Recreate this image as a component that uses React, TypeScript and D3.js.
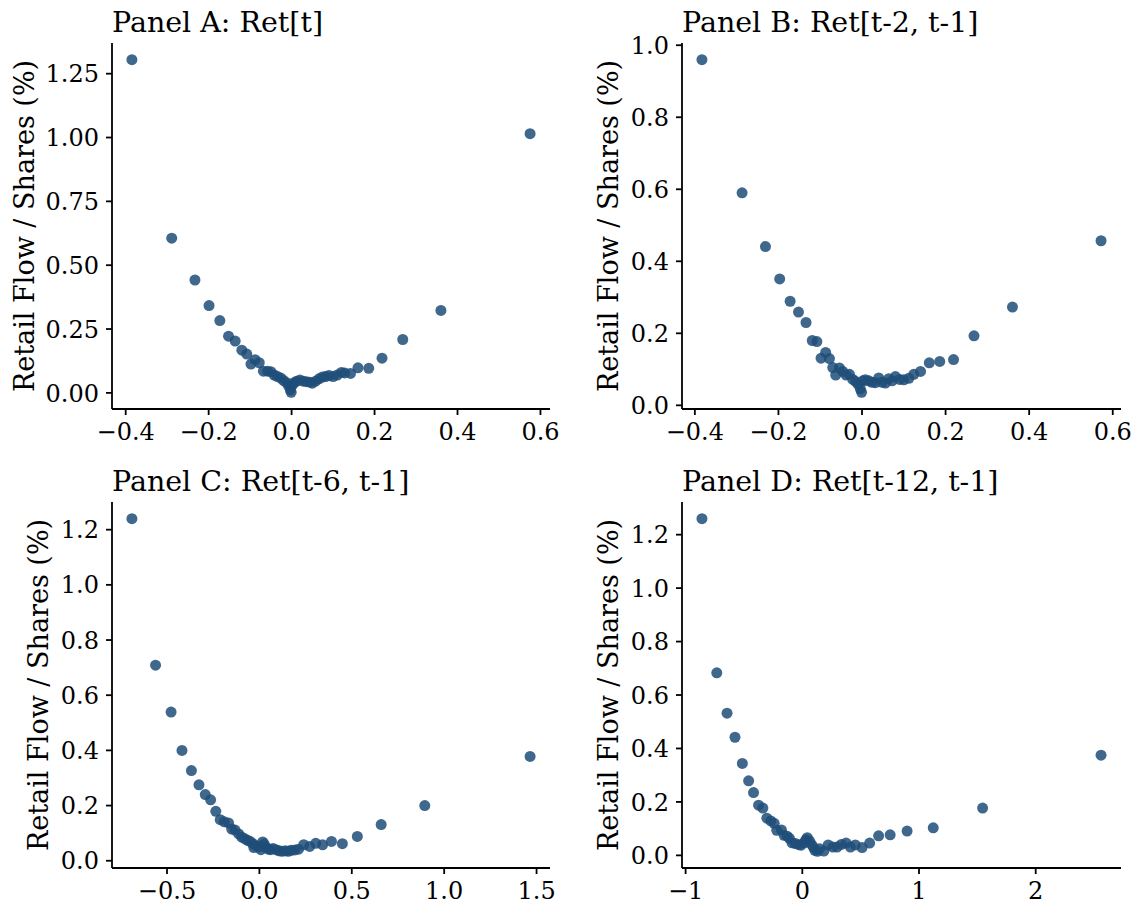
import React from "react";
import * as d3 from "d3";

const WIDTH = 1138;
const HEIGHT = 907;
const FONT = "'DejaVu Serif', serif";
const DOT = "#1f4e79";

// Panel A: Ret[t]
const retA = [-0.385, -0.289, -0.233, -0.199, -0.173, -0.152, -0.136, -0.12, -0.108, -0.098, -0.088, -0.078, -0.068, -0.058, -0.05, -0.042, -0.034, -0.026, -0.019, -0.012, -0.007, -0.003, -0.001, 0.002, 0.006, 0.012, 0.02, 0.028, 0.036, 0.044, 0.05, 0.058, 0.066, 0.074, 0.082, 0.09, 0.1, 0.11, 0.12, 0.128, 0.142, 0.16, 0.186, 0.218, 0.268, 0.36, 0.575];
const flowA = [1.305, 0.606, 0.442, 0.342, 0.283, 0.222, 0.203, 0.167, 0.152, 0.113, 0.13, 0.118, 0.085, 0.085, 0.083, 0.07, 0.064, 0.058, 0.048, 0.04, 0.026, 0.012, 0.002, 0.03, 0.04, 0.046, 0.05, 0.046, 0.044, 0.042, 0.038, 0.046, 0.055, 0.062, 0.064, 0.068, 0.064, 0.07, 0.08, 0.078, 0.076, 0.098, 0.096, 0.136, 0.209, 0.323, 1.015];

// Panel B: Ret[t-2, t-1]
const retB = [-0.383, -0.287, -0.231, -0.197, -0.172, -0.152, -0.134, -0.119, -0.108, -0.098, -0.087, -0.078, -0.07, -0.063, -0.054, -0.046, -0.038, -0.03, -0.022, -0.015, -0.009, -0.004, -0.001, 0.002, 0.008, 0.016, 0.024, 0.032, 0.04, 0.048, 0.056, 0.064, 0.072, 0.08, 0.09, 0.1, 0.112, 0.124, 0.14, 0.161, 0.186, 0.219, 0.268, 0.36, 0.572];
const flowB = [0.96, 0.59, 0.441, 0.351, 0.289, 0.259, 0.23, 0.18, 0.177, 0.131, 0.147, 0.13, 0.105, 0.084, 0.104, 0.094, 0.084, 0.086, 0.072, 0.066, 0.058, 0.046, 0.036, 0.068, 0.071, 0.068, 0.064, 0.063, 0.076, 0.064, 0.062, 0.074, 0.068, 0.08, 0.072, 0.071, 0.075, 0.086, 0.094, 0.118, 0.122, 0.127, 0.193, 0.273, 0.457];

// Panel C: Ret[t-6, t-1]
const retC = [-0.69, -0.562, -0.478, -0.419, -0.368, -0.327, -0.293, -0.264, -0.236, -0.212, -0.19, -0.167, -0.15, -0.132, -0.112, -0.096, -0.08, -0.064, -0.05, -0.036, -0.03, -0.016, -0.004, 0.008, 0.018, 0.026, 0.036, 0.048, 0.06, 0.074, 0.09, 0.106, 0.122, 0.14, 0.156, 0.172, 0.192, 0.212, 0.24, 0.272, 0.305, 0.342, 0.39, 0.449, 0.53, 0.659, 0.895, 1.465];
const flowC = [1.24, 0.709, 0.539, 0.4, 0.327, 0.275, 0.24, 0.221, 0.179, 0.149, 0.141, 0.137, 0.115, 0.111, 0.097, 0.086, 0.08, 0.074, 0.07, 0.062, 0.048, 0.054, 0.05, 0.04, 0.068, 0.06, 0.048, 0.042, 0.04, 0.044, 0.04, 0.036, 0.034, 0.036, 0.034, 0.038, 0.039, 0.042, 0.058, 0.052, 0.063, 0.058, 0.07, 0.062, 0.088, 0.131, 0.2, 0.378];

// Panel D: Ret[t-12, t-1]
const retD = [-0.86, -0.733, -0.645, -0.577, -0.514, -0.46, -0.418, -0.375, -0.338, -0.304, -0.27, -0.241, -0.219, -0.179, -0.156, -0.13, -0.11, -0.088, -0.06, -0.03, -0.01, 0.014, 0.03, 0.043, 0.062, 0.079, 0.095, 0.108, 0.13, 0.148, 0.185, 0.222, 0.262, 0.298, 0.335, 0.375, 0.412, 0.454, 0.512, 0.577, 0.654, 0.753, 0.898, 1.122, 1.545, 2.56];
const flowD = [1.26, 0.683, 0.532, 0.442, 0.344, 0.279, 0.235, 0.188, 0.177, 0.139, 0.129, 0.12, 0.094, 0.095, 0.075, 0.072, 0.064, 0.047, 0.044, 0.04, 0.038, 0.047, 0.058, 0.066, 0.054, 0.041, 0.03, 0.019, 0.015, 0.025, 0.016, 0.039, 0.031, 0.031, 0.041, 0.046, 0.031, 0.039, 0.029, 0.046, 0.073, 0.077, 0.091, 0.103, 0.177, 0.375];

const titles = ["Panel A: Ret[t]", "Panel B: Ret[t-2, t-1]", "Panel C: Ret[t-6, t-1]", "Panel D: Ret[t-12, t-1]"];
const yLabel = "Retail Flow / Shares (%)";

const xTicksA = [-0.4, -0.2, 0, 0.2, 0.4, 0.6];
const xTicksC = [-0.5, 0, 0.5, 1.0, 1.5];
const xTicksD = [-1, 0, 1, 2];
const yTicksA = [0, 0.25, 0.5, 0.75, 1.0, 1.25];
const yTicksB = [0, 0.2, 0.4, 0.6, 0.8, 1.0];
const yTicksCD = [0, 0.2, 0.4, 0.6, 0.8, 1.0, 1.2];

const panels = [
  { x: retA, y: flowA, xTicks: xTicksA, yTicks: yTicksA, xFmt: ".1f", yFmt: ".2f" },
  { x: retB, y: flowB, xTicks: xTicksA, yTicks: yTicksB, xFmt: ".1f", yFmt: ".1f" },
  { x: retC, y: flowC, xTicks: xTicksC, yTicks: yTicksCD, xFmt: ".1f", yFmt: ".1f" },
  { x: retD, y: flowD, xTicks: xTicksD, yTicks: yTicksCD, xFmt: "d", yFmt: ".1f" },
];

// axes boxes
const frames = [
  { left: 112, right: 550, top: 43, bottom: 409 },
  { left: 682, right: 1121, top: 43, bottom: 409 },
  { left: 112, right: 550, top: 502, bottom: 868 },
  { left: 682, right: 1121, top: 502, bottom: 868 },
];

const TICK_FONT = 24;
const LABEL_FONT = 27;
const TITLE_FONT = 28.5;
const TICK_LEN = 6;
const TICK_PAD = 7;

// matplotlib style 5% padding around the data
function padded(values: number[]): [number, number] {
  const [lo, hi] = d3.extent(values) as [number, number];
  const m = (hi - lo) * 0.05;
  return [lo - m, hi + m];
}

function Panel({ p, f, title }: any) {
  const x = d3.scaleLinear().domain(padded(p.x)).range([f.left, f.right]);
  const y = d3.scaleLinear().domain(padded(p.y)).range([f.bottom, f.top]);
  const fx = d3.format(p.xFmt);
  const fy = d3.format(p.yFmt);
  const maxLabel = d3.max(p.yTicks, (t: number) => fy(t).length) as number;
  const yLabelX = f.left - TICK_LEN - TICK_PAD - maxLabel * 13.5 - 20;

  return (
    <g>
      <text x={f.left} y={f.top - 11} fontSize={TITLE_FONT} fontFamily={FONT}>
        {title}
      </text>
      {p.x.map((v: number, i: number) => (
        <circle key={i} cx={x(v)} cy={y(p.y[i])} r={5.5} fill={DOT} fillOpacity={0.85} />
      ))}
      <line x1={f.left} x2={f.left} y1={f.top} y2={f.bottom} stroke="#000" strokeWidth={1.8} />
      <line x1={f.left} x2={f.right} y1={f.bottom} y2={f.bottom} stroke="#000" strokeWidth={1.8} />
      {p.xTicks.map((t: number) => (
        <g key={"x" + t} transform={`translate(${x(t)},${f.bottom})`}>
          <line y2={TICK_LEN} stroke="#000" strokeWidth={1.8} />
          <text y={TICK_LEN + TICK_PAD} dy="0.76em" textAnchor="middle" fontSize={TICK_FONT} fontFamily={FONT}>
            {fx(t)}
          </text>
        </g>
      ))}
      {p.yTicks.map((t: number) => (
        <g key={"y" + t} transform={`translate(${f.left},${y(t)})`}>
          <line x2={-TICK_LEN} stroke="#000" strokeWidth={1.8} />
          <text x={-TICK_LEN - TICK_PAD} dy="0.36em" textAnchor="end" fontSize={TICK_FONT} fontFamily={FONT}>
            {fy(t)}
          </text>
        </g>
      ))}
      <text
        transform={`translate(${yLabelX},${(f.top + f.bottom) / 2}) rotate(-90)`}
        dy="0.35em"
        textAnchor="middle"
        fontSize={LABEL_FONT}
        fontFamily={FONT}
      >
        {yLabel}
      </text>
    </g>
  );
}

export default function App() {
  return (
    <svg
      width={WIDTH}
      height={HEIGHT}
      style={{ position: "absolute", left: 0, top: 0, background: "#fff" }}
    >
      {panels.map((p, i) => (
        <Panel key={i} p={p} f={frames[i]} title={titles[i]} />
      ))}
    </svg>
  );
}
